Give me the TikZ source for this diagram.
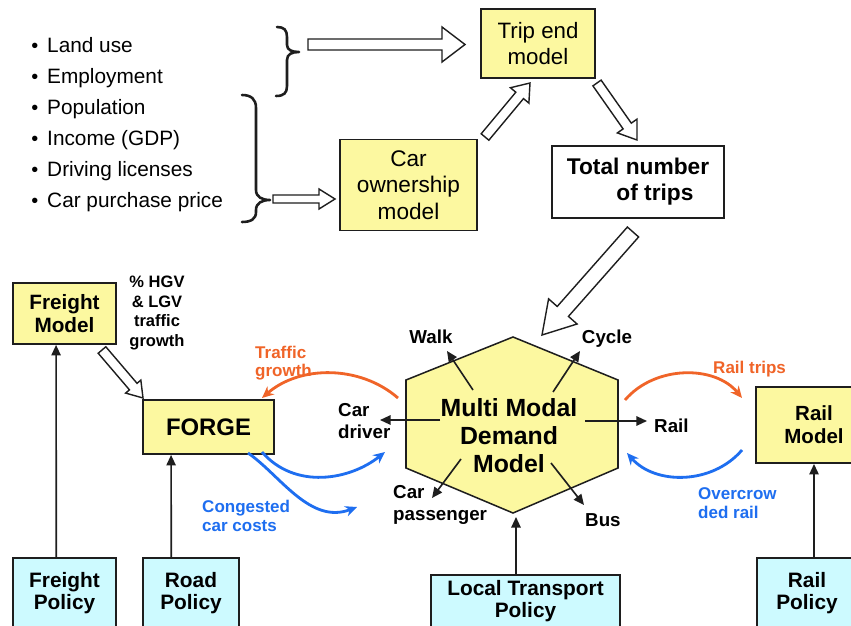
\documentclass[tikz,border=0pt]{standalone}
\usepackage{fontspec}
\setmainfont{Liberation Sans}
\usetikzlibrary{arrows.meta,calc}
\newcommand\pu{0.03cm}
\newcommand\fsz[2]{\fontsize{#1}{#2}\selectfont}
\definecolor{yel}{RGB}{252,248,160}
\definecolor{cya}{RGB}{205,250,255}
\definecolor{org}{RGB}{240,100,40}
\definecolor{blu}{RGB}{30,110,240}
\definecolor{edge}{RGB}{30,30,30}
\tikzset{
 ybox/.style={draw=edge, line width=1.6pt, fill=yel, inner sep=0pt, align=center},
 cbox/.style={draw=edge, line width=1.2pt, fill=cya, inner sep=0pt, align=center, font=\bfseries\fsz{17.8}{18.8}},
 lbl/.style={inner sep=0pt},
 arr/.style={line width=1.4pt, draw=edge, -{Triangle[length=9pt,width=8pt]}},
 carr/.style={line width=2.4pt, -{Stealth[length=10pt,width=9pt]}},
 brace/.style={line width=2.2pt, draw=edge, line cap=round, line join=round},
 hollow/.style n args={3}{draw=edge, fill=white, line width=1.2pt, line join=miter, to path={
  let \p1=(\tikztostart), \p2=(\tikztotarget),
      \n1={atan2(\y2-\y1,\x2-\x1)}, \n2={veclen(\x2-\x1,\y2-\y1)} in
  ($(\p1)+(\n1+90:{#1*\pu})$)
  -- ($(\p1)+(\n1+90:{#1*\pu})+(\n1:{\n2-#3*\pu})$)
  -- ($(\p1)+(\n1+90:{#2*\pu})+(\n1:{\n2-#3*\pu})$)
  -- (\p2)
  -- ($(\p1)+(\n1-90:{#2*\pu})+(\n1:{\n2-#3*\pu})$)
  -- ($(\p1)+(\n1-90:{#1*\pu})+(\n1:{\n2-#3*\pu})$)
  -- ($(\p1)+(\n1-90:{#1*\pu})$)
  -- cycle}},
}
\begin{document}
\begin{tikzpicture}[x=0.03cm,y=-0.03cm]
\useasboundingbox (0,0) rectangle (851,626);
\clip (0,0) rectangle (851,626);
\fill[white] (0,0) rectangle (851,626);

% bullet list
\foreach \t/\yy/\nm in {Land use/53/b1, Employment/84/b2, Population/115/b3, Income (GDP)/146/b4, Driving licenses/177/b5, Car purchase price/208/b6}
  \node[lbl, font=\fsz{17.75}{20}, anchor=base west] (\nm) at (47,\yy) {\llap{\raisebox{0.5pt}{\fsz{17}{17}•}\hspace{7.5pt}}\t};

% braces
\draw[brace] (277,27) .. controls (284,27) and (287,30) .. (287,37) -- (287,45)
  .. controls (287,50) and (292,52) .. (299,52) .. controls (292,52) and (287,54) .. (287,60)
  -- (287,86) .. controls (287,93) and (284,96) .. (276,96);
\draw[brace] (242,95) .. controls (251,95) and (256,99) .. (256,108) -- (256,190)
  .. controls (256,197) and (262,200) .. (270,200) .. controls (262,200) and (256,203) .. (256,210)
  -- (256,212) .. controls (256,219) and (251,222) .. (242,222);

% top boxes
\node[ybox, minimum width={114*\pu}, minimum height={69*\pu}, font=\fsz{19}{22.6}] (trip) at (538,43.5) {Trip end\\model};
\node[ybox, minimum width={137*\pu}, minimum height={91*\pu}, font=\fsz{19.3}{22.8}] (carown) at (408.5,185) {Car\\ownership\\model};
\node[draw=edge, line width=1.2pt, fill=white, inner sep=0pt, align=center, minimum width={172*\pu}, minimum height={72*\pu}, font=\bfseries\fsz{19.4}{22.2}] (total) at (638,182) {Total number\\\hspace*{29pt}of trips};

% hollow arrows
\coordinate (h1s) at (308,44.5); \coordinate (h1e) at (465,44.5);
\draw[hollow={5.5}{17.5}{23}] (h1s) to (h1e);
\coordinate (h2s) at (273,199); \coordinate (h2e) at (335,199);
\draw[hollow={4}{10}{16}] (h2s) to (h2e);
\coordinate (h3s) at (485,137); \coordinate (h3e) at (530,83);
\draw[hollow={5}{12}{16}] (h3s) to (h3e);
\coordinate (h4s) at (597,83); \coordinate (h4e) at (637,140);
\draw[hollow={5}{12}{17}] (h4s) to (h4e);
\coordinate (h5s) at (633,232); \coordinate (h5e) at (542,335);
\draw[hollow={7.5}{19}{31}] (h5s) to (h5e);
\coordinate (h6s) at (102,350); \coordinate (h6e) at (143,398);
\draw[hollow={5}{10}{15}] (h6s) to (h6e);

% middle boxes
\node[ybox, font=\bfseries\fsz{17.7}{19.6}, minimum width={103*\pu}, minimum height={61*\pu}] (fmod) at (64.5,313.5) {Freight\\Model};
\node[ybox, font=\bfseries\fsz{20.4}{24}, minimum width={131*\pu}, minimum height={54*\pu}] (forge) at (208.5,427) {FORGE};
\node[ybox, font=\bfseries\fsz{17.5}{19.6}, minimum width={116*\pu}, minimum height={76*\pu}] (rmod) at (814,425) {Rail\\Model};

% hexagon
\draw[draw=edge, line width=1.3pt, fill=yel] (513,337) -- (618,380) -- (618,468) -- (513,513) -- (406,468) -- (406,380) -- cycle;
\node[lbl, align=center, font=\bfseries\fsz{21.2}{23.9}] (mmdm) at (509,436) {Multi Modal\\Demand\\Model};

% bottom boxes
\node[cbox, minimum width={103*\pu}, minimum height={71*\pu}] (fpol) at (64.5,593.5) {Freight\\Policy};
\node[cbox, minimum width={96*\pu}, minimum height={71*\pu}] (rpol) at (191,593.5) {Road\\Policy};
\node[cbox, minimum width={189*\pu}, minimum height={53*\pu}] (ltp) at (525.5,601.5) {Local Transport\\Policy};
\node[cbox, minimum width={100*\pu}, minimum height={71*\pu}] (rlpol) at (807,593.5) {Rail\\Policy};

% labels
\node[lbl, align=center, anchor=north, font=\bfseries\fsz{14.1}{16.6}] (hgv) at (157,276) {\% HGV\\\& LGV\\traffic\\growth};
\node[lbl, anchor=base, font=\bfseries\fsz{16}{18.8}] (walk) at (431,343) {Walk};
\node[lbl, anchor=base, font=\bfseries\fsz{16}{18.8}] (cycle) at (607,343) {Cycle};
\node[lbl, anchor=base west, font=\bfseries\fsz{16}{18.8}] (rail) at (654,432) {Rail};
\node[lbl, anchor=base west, font=\bfseries\fsz{16}{18.8}] (bus) at (585,526) {Bus};
\node[lbl, align=left, anchor=north west, font=\bfseries\fsz{16}{18.8}] (cdrv) at (338,403.5) {Car\\driver};
\node[lbl, align=left, anchor=north west, font=\bfseries\fsz{16}{18.8}] (cpas) at (393,485.5) {Car\\passenger};
\node[lbl, text=org, align=left, anchor=north west, font=\bfseries\fsz{14.5}{15.4}] (tgl) at (255,346) {Traffic\\growth};
\node[lbl, text=org, anchor=base west, font=\bfseries\fsz{14.5}{16}] (rtl) at (713,373) {Rail trips};
\node[lbl, text=blu, align=left, anchor=north west, font=\bfseries\fsz{14.5}{16.2}] (ocl) at (698,487) {Overcrow\\ded rail};
\node[lbl, text=blu, align=left, anchor=north west, font=\bfseries\fsz{14.5}{16.2}] (ccl) at (202,500) {Congested\\car costs};

% hexagon mode arrows
\coordinate (wa) at (473,390); \coordinate (wb) at (447,351);
\coordinate (ca) at (553,392); \coordinate (cb) at (580,351);
\coordinate (ra) at (585,421); \coordinate (rb) at (647,421);
\coordinate (da) at (440,420); \coordinate (db) at (380,420);
\coordinate (pa) at (461,459); \coordinate (pb) at (432,498);
\coordinate (ba) at (551,463); \coordinate (bb) at (584,505);
\foreach \a/\b in {wa/wb, ca/cb, ra/rb, da/db, pa/pb, ba/bb}
  \draw[arr] (\a) -- (\b);

% vertical policy arrows
\draw[arr] ([xshift={44*\pu}]fpol.north west) -- ([xshift={44*\pu}]fmod.south west);
\draw[arr] ([xshift={29*\pu}]rpol.north west) -- ([xshift={29*\pu}]forge.south west);
\coordinate (hexb) at (516,517);
\draw[arr] (ltp.north -| hexb) -- (hexb);
\draw[arr] (rmod.south |- rlpol.north) -- (rmod.south);

% coloured curved arrows
\coordinate (tg0) at (398,398); \coordinate (tg1) at (262,398);
\draw[carr, org] (tg0) .. controls (360,365) and (300,365) .. (tg1);
\coordinate (rt0) at (625,400); \coordinate (rt1) at (742,398);
\draw[carr, org] (rt0) .. controls (655,365) and (715,365) .. (rt1);
\coordinate (oc0) at (742,450); \coordinate (oc1) at (627,453);
\draw[carr, blu] (oc0) .. controls (712,485) and (655,485) .. (oc1);
\coordinate (cc0) at (262,452); \coordinate (cc1) at (385,452);
\draw[carr, blu] (cc0) .. controls (295,490) and (350,480) .. (cc1);
\coordinate (cd0) at (248,453); \coordinate (cd1) at (357,507);
\draw[carr, blu] (cd0) .. controls (280,475) and (310,525) .. (cd1);
\end{tikzpicture}
\end{document}
